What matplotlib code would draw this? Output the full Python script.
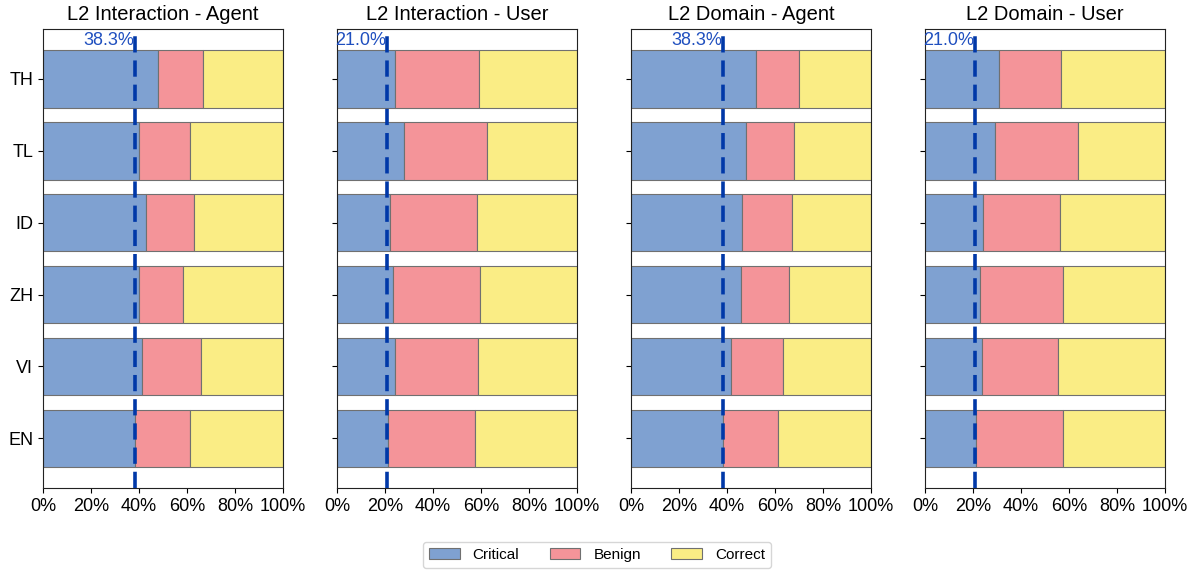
import matplotlib
matplotlib.use("Agg")
import matplotlib.pyplot as plt
from matplotlib.patches import Patch

plt.rcParams['font.family'] = ['Liberation Sans', 'DejaVu Sans']

languages = ["EN", "VI", "ZH", "ID", "TL", "TH"]
titles = ["L2 Interaction - Agent", "L2 Interaction - User",
          "L2 Domain - Agent", "L2 Domain - User"]
series = ["Critical", "Benign", "Correct"]
colors = ["#7fa1d1", "#f49499", "#faed85"]

# Critical %, Benign % per panel (order EN, VI, ZH, ID, TL, TH); Correct = remainder
critical = [
    [38.5, 41.3, 39.9, 42.8, 39.9, 47.8],
    [21.1, 24.0, 23.3, 22.2, 28.0, 24.1],
    [38.4, 41.5, 45.8, 46.2, 48.0, 52.0],
    [21.1, 23.6, 23.0, 24.1, 29.3, 30.8],
]
benign = [
    [22.6, 24.4, 18.4, 20.1, 21.2, 19.0],
    [36.4, 34.9, 36.4, 36.0, 34.3, 35.2],
    [22.8, 22.0, 19.9, 20.7, 19.8, 18.0],
    [36.5, 32.0, 34.4, 32.2, 34.6, 25.8],
]
baselines = [38.3, 21.0, 38.3, 21.0]
baseline_labels = ["38.3%", "21.0%", "38.3%", "21.0%"]

fig = plt.figure(figsize=(11.99, 5.70), dpi=100)
lefts = [43, 337, 631, 925]
axes = []
for i in range(4):
    ax = fig.add_axes([lefts[i] / 1199, 1 - 488 / 570, 240 / 1199, (488 - 29.3) / 570])
    axes.append(ax)
    crit = critical[i]
    ben = benign[i]
    corr = [100 - c - b for c, b in zip(crit, ben)]
    y = list(range(len(languages)))
    ax.barh(y, crit, height=0.8, color=colors[0], edgecolor="#707070", linewidth=0.8)
    ax.barh(y, ben, left=crit, height=0.8, color=colors[1], edgecolor="#707070", linewidth=0.8)
    left2 = [c + b for c, b in zip(crit, ben)]
    ax.barh(y, corr, left=left2, height=0.8, color=colors[2], edgecolor="#707070", linewidth=0.8)
    ax.set_xlim(0, 100)
    ax.set_ylim(-0.69, 5.69)
    ax.set_xticks([0, 20, 40, 60, 80, 100])
    ax.set_xticklabels([f"{v}%" for v in [0, 20, 40, 60, 80, 100]], fontsize=13)
    ax.set_yticks(y)
    if i == 0:
        ax.set_yticklabels(languages, fontsize=13)
    else:
        ax.set_yticklabels([])
    ax.set_title(titles[i], fontsize=14.5, pad=7)
    ax.axvline(baselines[i], color="#0038a8", linestyle=(0, (4.5, 2.2)), linewidth=2.6, zorder=5)
    ax.text(baselines[i] - 0.5, 5.42, baseline_labels[i], color="#1f4fbf", fontsize=13,
            ha="right", va="bottom", zorder=6)
    for sp in ax.spines.values():
        sp.set_color("#222222")

handles = [Patch(facecolor=colors[k], edgecolor="#707070", linewidth=0.8, label=series[k]) for k in range(3)]
fig.legend(handles=handles, loc="center", bbox_to_anchor=(597 / 1199, 1 - 555 / 570), ncol=3,
           fontsize=11, frameon=True, handlelength=2.0, columnspacing=2.0, handletextpad=0.85,
           borderpad=0.4, edgecolor="#cccccc")

fig.savefig("out.png", dpi=100)
